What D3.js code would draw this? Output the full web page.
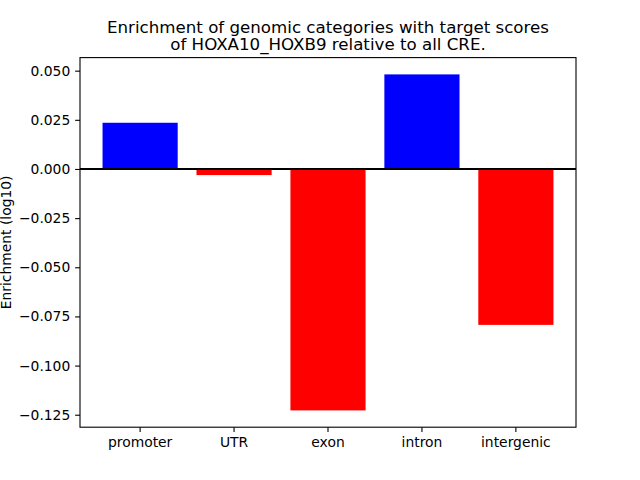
<!DOCTYPE html>
<html><head><meta charset="utf-8">
<script src="https://cdn.jsdelivr.net/npm/d3@7"></script>
<style>body{margin:0;background:#fff}svg{display:block}text{font-family:"DejaVu Sans",sans-serif}</style>
</head><body>
<script>
const categories = ["promoter", "UTR", "exon", "intron", "intergenic"];
const values = [0.0235, -0.0031, -0.1228, 0.0481, -0.0793];
const yTicks = [0.050, 0.025, 0.000, -0.025, -0.050, -0.075, -0.100, -0.125];
const titleLines = ["Enrichment of genomic categories with target scores", "of HOXA10_HOXB9 relative to all CRE."];
const yLabel = "Enrichment (log10)";

const W = 640, H = 480;
const L = 80, R = 576, T = 57.6, B = 427.2;
const FS = 13.89, TFS = 16.67, TICK = 4.86;
const svg = d3.select("body").append("svg").attr("width", W).attr("height", H);

const x = d3.scaleBand().domain(categories).range([L, R]).paddingInner(0.2).paddingOuter(0.24);
const ymin = d3.min(values), ymax = d3.max(values), pad = (ymax - ymin) * 0.05;
const y = d3.scaleLinear().domain([ymin - pad, ymax + pad]).range([B, T]);

svg.append("g").selectAll("rect").data(values).join("rect")
  .attr("x", (d, i) => x(categories[i]))
  .attr("width", x.bandwidth())
  .attr("y", d => y(Math.max(0, d)))
  .attr("height", d => Math.abs(y(d) - y(0)))
  .attr("fill", d => d >= 0 ? "#0000ff" : "#ff0000");

svg.append("line").attr("x1", L).attr("x2", R).attr("y1", y(0)).attr("y2", y(0))
  .attr("stroke", "#000").attr("stroke-width", 2);

const fmt = d => (d < 0 ? "\u2212" : "") + Math.abs(d).toFixed(3);
const yAxis = svg.append("g").attr("transform", `translate(${L},0)`)
  .call(d3.axisLeft(y).tickValues(yTicks).tickFormat(fmt).tickSize(TICK).tickPadding(TICK));
const xAxis = svg.append("g").attr("transform", `translate(0,${B})`)
  .call(d3.axisBottom(x).tickSize(TICK).tickPadding(TICK));
[yAxis, xAxis].forEach(a => {
  a.select(".domain").remove();
  a.selectAll("line").attr("stroke", "#000").attr("stroke-width", 1.1);
  a.selectAll("text").attr("font-size", FS).attr("fill", "#000").attr("font-family", "DejaVu Sans");
});

svg.append("rect").attr("x", L).attr("y", T).attr("width", R - L).attr("height", B - T)
  .attr("fill", "none").attr("stroke", "#000").attr("stroke-width", 1.1);

svg.append("text").attr("transform", `translate(10.5,${(T + B) / 2}) rotate(-90)`)
  .attr("text-anchor", "middle").attr("font-size", FS).text(yLabel);

svg.append("g").selectAll("text").data(titleLines).join("text")
  .attr("x", (L + R) / 2).attr("y", (d, i) => 33 + i * 17)
  .attr("text-anchor", "middle").attr("font-size", TFS).text(d => d);
</script>
</body></html>
